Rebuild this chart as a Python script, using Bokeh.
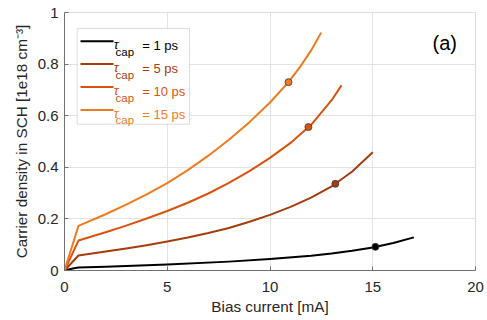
from bokeh.plotting import figure
from bokeh.models import Range1d, FixedTicker, Label, BoxAnnotation, ColumnDataSource
from bokeh.embed import file_html
from bokeh.resources import INLINE

# ---- data ----
x_1ps = [0, 0.4, 0.68, 2, 5, 8, 10, 12, 13, 14, 15, 16, 17]
y_1ps = [0, 0.008, 0.012, 0.0146, 0.023, 0.0344, 0.0444, 0.0574, 0.0659, 0.0764, 0.0894, 0.1064, 0.1284]

x_5ps = [0, 0.68, 2, 3, 4, 5, 6, 7, 8, 9, 10, 11, 12, 13, 14, 15]
y_5ps = [0, 0.058, 0.0732, 0.0852, 0.0982, 0.1122, 0.1277, 0.1452, 0.1647, 0.1887, 0.2157,
         0.2467, 0.2827, 0.3257, 0.3837, 0.4587]

x_10ps = [0, 0.68, 2, 3, 4, 5, 6, 7, 8, 9, 10, 11, 12, 13, 13.48]
y_10ps = [0, 0.116, 0.148, 0.174, 0.2015, 0.2305, 0.2625, 0.2985, 0.3395, 0.3855, 0.4365,
          0.4945, 0.5645, 0.66, 0.7175]

x_15ps = [0, 0.68, 2, 3, 4, 5, 6, 7, 8, 9, 10, 10.9, 11.5, 12, 12.49]
y_15ps = [0, 0.173, 0.218, 0.255, 0.295, 0.339, 0.389, 0.445, 0.507, 0.575, 0.651, 0.730,
          0.793, 0.853, 0.922]

marker_x = [15.13, 13.18, 11.87, 10.9]
marker_y = [0.0916, 0.336, 0.556, 0.730]

series_names = ["1 ps", "5 ps", "10 ps", "15 ps"]
colors = ["#000000", "#A63C0E", "#D9530F", "#F07A1E"]

x_ticks = [0, 5, 10, 15, 20]
x_tick_labels = ["0", "5", "10", "15", "20"]
y_ticks = [0, 0.2, 0.4, 0.6, 0.8, 1.0]
y_tick_labels = ["0", "0.2", "0.4", "0.6", "0.8", "1"]

FONT = "Liberation Sans"

p = figure(width=487, height=318, x_range=Range1d(0, 20), y_range=Range1d(0, 1),
           output_backend="svg", toolbar_location=None,
           min_border_left=64, min_border_right=12, min_border_top=12, min_border_bottom=48)

p.background_fill_color = "white"
p.border_fill_color = "white"
p.outline_line_color = "#dcdcdc"

for ax in (p.xaxis[0], p.yaxis[0]):
    ax.axis_line_color = "#707070"
    ax.major_tick_line_color = "#707070"
    ax.major_tick_in = 4
    ax.major_tick_out = 0
    ax.minor_tick_line_color = None
    ax.major_label_text_font = FONT
    ax.major_label_text_font_size = "15px"
    ax.major_label_text_color = "#262626"
    ax.axis_label_text_font = FONT
    ax.axis_label_text_font_size = "15.3px"
    ax.axis_label_text_font_style = "normal"
    ax.axis_label_text_color = "#262626"

p.xaxis.ticker = FixedTicker(ticks=x_ticks)
p.yaxis.ticker = FixedTicker(ticks=y_ticks)
p.xaxis.major_label_overrides = {t: s for t, s in zip(x_ticks, x_tick_labels)}
p.yaxis.major_label_overrides = {t: s for t, s in zip(y_ticks, y_tick_labels)}
p.xaxis.axis_label = "Bias current [mA]"
p.yaxis.axis_label = "Carrier density in SCH [1e18 cm\u207b\u00b3]"
p.xaxis.major_label_standoff = 11
p.yaxis.major_label_standoff = 6
p.xaxis.axis_label_standoff = 3
p.yaxis.axis_label_standoff = 5

p.xgrid.grid_line_color = "#e3e3e3"
p.ygrid.grid_line_color = "#e3e3e3"

xs = [x_1ps, x_5ps, x_10ps, x_15ps]
ys = [y_1ps, y_5ps, y_10ps, y_15ps]
for x, y, c in zip(xs, ys, colors):
    p.line(x=x, y=y, line_color=c, line_width=2, line_join="round")

msrc = ColumnDataSource(dict(x=marker_x, y=marker_y, c=colors))
p.scatter(x="x", y="y", source=msrc, size=7, fill_color="c", line_color="#3a3a3a", line_width=0.8)

# ---- legend (screen units relative to the frame) ----
p.add_layout(BoxAnnotation(left=12.7, right=125, top=242, bottom=146.3,
                           left_units="screen", right_units="screen",
                           top_units="screen", bottom_units="screen",
                           fill_color="white", fill_alpha=1.0,
                           line_color="#8a8a8a", line_width=1))
row0 = 229.3
step = 22.9
for i, (name, c) in enumerate(zip(series_names, colors)):
    ry = row0 - i * step
    p.add_layout(BoxAnnotation(left=16, right=49, top=ry + 1, bottom=ry - 1,
                               left_units="screen", right_units="screen",
                               top_units="screen", bottom_units="screen",
                               fill_color=c, fill_alpha=1.0, line_color=None))
    p.add_layout(Label(x=49.3, y=ry - 3.3, x_units="screen", y_units="screen",
                       text="\u03c4", text_font=FONT, text_font_size="13px",
                       text_font_style="italic", text_color=c, text_baseline="alphabetic"))
    p.add_layout(Label(x=51, y=ry - 10.5, x_units="screen", y_units="screen",
                       text="cap", text_font=FONT, text_font_size="11.5px",
                       text_color=c, text_baseline="alphabetic"))
    p.add_layout(Label(x=77.7, y=ry - 4.3, x_units="screen", y_units="screen",
                       text="= " + name, text_font=FONT, text_font_size="13px",
                       text_color=c, text_baseline="alphabetic"))

p.add_layout(Label(x=368, y=227.3, x_units="screen", y_units="screen",
                   text="(a)", text_font=FONT, text_font_size="20px",
                   text_color="#000000", text_baseline="alphabetic"))

open("out.html", "w").write(file_html(p, INLINE))
